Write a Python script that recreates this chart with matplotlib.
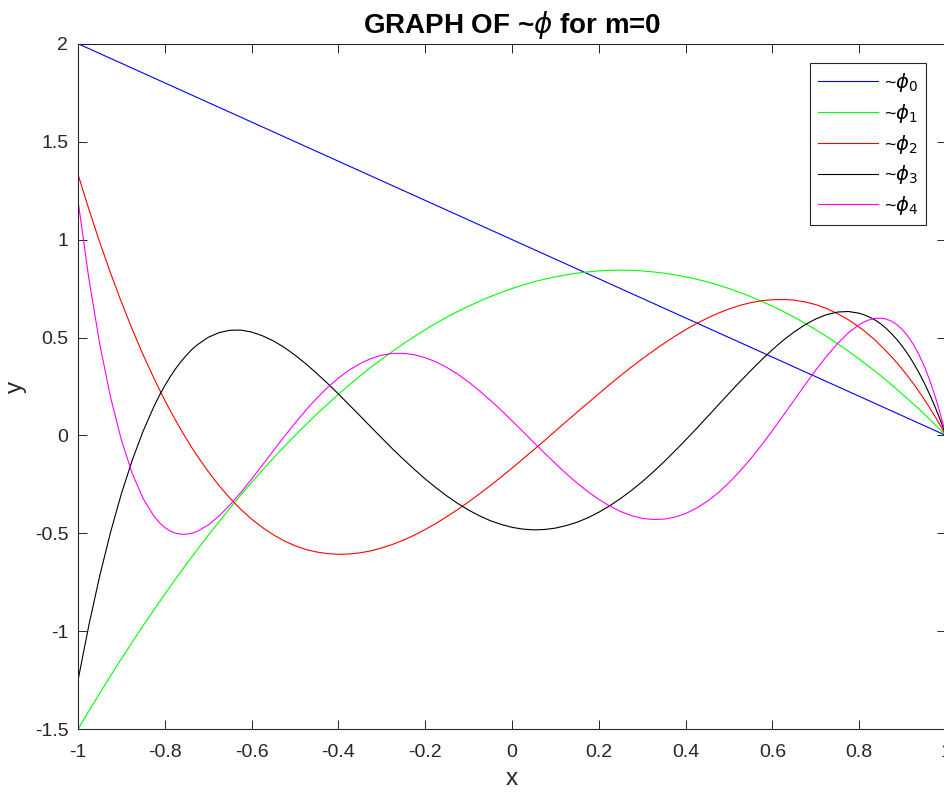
import numpy as np
import matplotlib
matplotlib.use("Agg")
import matplotlib.pyplot as plt
from matplotlib.ticker import FormatStrFormatter

plt.rcParams["font.family"] = ["Liberation Sans", "DejaVu Sans"]
plt.rcParams["mathtext.fontset"] = "dejavusans"
plt.rcParams["axes.unicode_minus"] = False

# sample points (denser where they bend sharply)
x = [-1.0, -0.975, -0.95, -0.925, -0.9, -0.875, -0.85, -0.825, -0.8125, -0.8,
     -0.7875, -0.775, -0.7625, -0.75, -0.7375, -0.725, -0.7,
     -0.675, -0.65, -0.625, -0.6, -0.575, -0.55, -0.525,
     -0.5, -0.475, -0.45, -0.425, -0.4, -0.375, -0.35, -0.325, -0.3, -0.275,
     -0.25, -0.225, -0.2, -0.175, -0.15, -0.125, -0.1, -0.075, -0.05, -0.025,
     0.0, 0.025, 0.05, 0.075, 0.1, 0.125, 0.15, 0.175, 0.2, 0.225,
     0.25, 0.275, 0.3, 0.325, 0.35, 0.375, 0.4, 0.425, 0.45, 0.475,
     0.5, 0.525, 0.55, 0.575, 0.6, 0.625, 0.65, 0.675, 0.7, 0.725,
     0.75, 0.775,
     0.8, 0.8125, 0.825, 0.8375, 0.85, 0.8625, 0.875, 0.8875, 0.9, 0.9125,
     0.925, 0.9375, 0.95, 0.9625, 0.975, 0.9875, 1.0]

x0 = [-1.0, 1.0]
phi0 = [2.0, 0.0]

phi1 = [-1.5, -1.407, -1.316, -1.227, -1.14, -1.055, -0.971, -0.890, -0.850, -0.81,
        -0.771, -0.732, -0.694, -0.656, -0.619, -0.582, -0.51,
        -0.440, -0.371, -0.305, -0.24, -0.177, -0.116, -0.057,
        0.0, 0.055, 0.109, 0.160, 0.21, 0.258, 0.304, 0.348, 0.39, 0.430,
        0.469, 0.505, 0.54, 0.573, 0.604, 0.633, 0.66, 0.685, 0.709, 0.730,
        0.75, 0.768, 0.784, 0.798, 0.81, 0.820, 0.829, 0.835, 0.84, 0.843,
        0.844, 0.843, 0.84, 0.835, 0.829, 0.820, 0.81, 0.798, 0.784, 0.768,
        0.75, 0.730, 0.709, 0.685, 0.66, 0.633, 0.604, 0.573, 0.54, 0.505,
        0.469, 0.430,
        0.39, 0.369, 0.348, 0.326, 0.304, 0.281, 0.258, 0.234, 0.21, 0.185,
        0.160, 0.135, 0.109, 0.082, 0.055, 0.028, 0.0]

phi2 = [1.333, 1.155, 0.987, 0.829, 0.681, 0.542, 0.412, 0.292, 0.235, 0.180,
        0.127, 0.077, 0.028, -0.018, -0.063, -0.105, -0.184,
        -0.256, -0.320, -0.377, -0.427, -0.470, -0.507, -0.538,
        -0.563, -0.582, -0.595, -0.603, -0.607, -0.605, -0.599, -0.589, -0.574, -0.556,
        -0.534, -0.509, -0.480, -0.449, -0.414, -0.378, -0.339, -0.298, -0.256, -0.212,
        -0.167, -0.120, -0.073, -0.026, 0.023, 0.071, 0.119, 0.166, 0.213, 0.260,
        0.305, 0.349, 0.391, 0.431, 0.470, 0.506, 0.540, 0.571, 0.599, 0.624,
        0.646, 0.664, 0.678, 0.688, 0.693, 0.694, 0.691, 0.682, 0.668, 0.648,
        0.622, 0.591,
        0.553, 0.532, 0.509, 0.485, 0.458, 0.430, 0.401, 0.369, 0.336, 0.301,
        0.264, 0.225, 0.184, 0.141, 0.096, 0.049, 0.0]

phi3 = [-1.25, -0.969, -0.717, -0.494, -0.297, -0.126, 0.022, 0.148, 0.204, 0.254,
        0.300, 0.341, 0.378, 0.410, 0.439, 0.463, 0.501,
        0.525, 0.537, 0.538, 0.528, 0.509, 0.483, 0.450,
        0.410, 0.366, 0.317, 0.266, 0.212, 0.156, 0.100, 0.043, -0.013, -0.069,
        -0.122, -0.173, -0.222, -0.267, -0.309, -0.347, -0.381, -0.410, -0.435, -0.454,
        -0.469, -0.478, -0.482, -0.480, -0.473, -0.460, -0.443, -0.420, -0.392, -0.359,
        -0.322, -0.281, -0.236, -0.187, -0.135, -0.080, -0.023, 0.035, 0.095, 0.155,
        0.215, 0.274, 0.331, 0.386, 0.438, 0.486, 0.528, 0.565, 0.595, 0.617,
        0.630, 0.633,
        0.624, 0.615, 0.603, 0.588, 0.569, 0.546, 0.519, 0.488, 0.453, 0.414,
        0.370, 0.321, 0.268, 0.209, 0.145, 0.075, 0.0]

phi4 = [1.2, 0.801, 0.468, 0.195, -0.024, -0.194, -0.322, -0.412, -0.445, -0.470,
        -0.488, -0.499, -0.504, -0.504, -0.499, -0.489, -0.457,
        -0.411, -0.355, -0.292, -0.223, -0.151, -0.078, -0.006,
        0.063, 0.129, 0.190, 0.245, 0.293, 0.334, 0.367, 0.393, 0.410, 0.419,
        0.419, 0.412, 0.397, 0.376, 0.347, 0.313, 0.273, 0.228, 0.180, 0.129,
        0.075, 0.020, -0.035, -0.090, -0.143, -0.195, -0.243, -0.287, -0.326, -0.360,
        -0.388, -0.409, -0.423, -0.429, -0.427, -0.417, -0.399, -0.371, -0.336, -0.293,
        -0.241, -0.183, -0.119, -0.049, 0.025, 0.102, 0.180, 0.258, 0.334, 0.405,
        0.469, 0.524,
        0.566, 0.581, 0.592, 0.598, 0.599, 0.594, 0.583, 0.565, 0.539, 0.506,
        0.464, 0.413, 0.353, 0.282, 0.200, 0.106, 0.0]

labels = [r"~$\phi_0$", r"~$\phi_1$", r"~$\phi_2$", r"~$\phi_3$", r"~$\phi_4$"]
colors = ["#0000ff", "#00ff00", "#ff0000", "#000000", "#ff00ff"]

xticks = [-1, -0.8, -0.6, -0.4, -0.2, 0, 0.2, 0.4, 0.6, 0.8, 1]
yticks = [-1.5, -1, -0.5, 0, 0.5, 1, 1.5, 2]

fig = plt.figure(figsize=(9.45, 7.95), dpi=100)
ax = fig.add_axes([78 / 945, 1 - 729.3 / 795, 868 / 945, 685.6 / 795])

ax.plot(x0, phi0, color=colors[0], lw=0.8, label=labels[0])
for ys, c, lab in zip([phi1, phi2, phi3, phi4], colors[1:], labels[1:]):
    ax.plot(x, ys, color=c, lw=0.8, label=lab)

ax.set_xlim(-1, 1)
ax.set_ylim(-1.5, 2)
ax.set_xticks(xticks)
ax.set_yticks(yticks)
ax.xaxis.set_major_formatter(FormatStrFormatter("%g"))
ax.yaxis.set_major_formatter(FormatStrFormatter("%g"))

grey = "#262626"
for s in ax.spines.values():
    s.set_color(grey)
    s.set_linewidth(0.8)
ax.tick_params(direction="in", length=6.3, width=0.7, colors=grey,
               labelsize=14, top=True, right=True)
ax.tick_params(axis="x", pad=10.5)
ax.tick_params(axis="y", pad=7)

ax.set_xlabel("x", fontsize=17.5, color=grey, labelpad=5)
ax.set_ylabel("y", fontsize=17.5, color=grey, labelpad=5.5)
ax.set_title(r"GRAPH OF ~$\phi$ for m=0", fontsize=20, fontweight="bold", pad=8)

leg = ax.legend(loc="upper right", bbox_to_anchor=(926 / 945, 1 - 63.3 / 795),
                bbox_transform=fig.transFigure, borderaxespad=0, fontsize=14,
                handlelength=3.1, handletextpad=0.3, labelspacing=0.4,
                fancybox=False, framealpha=1, borderpad=0.4)
leg.get_frame().set_edgecolor(grey)
leg.get_frame().set_linewidth(0.8)

fig.savefig("out.png", dpi=100)
